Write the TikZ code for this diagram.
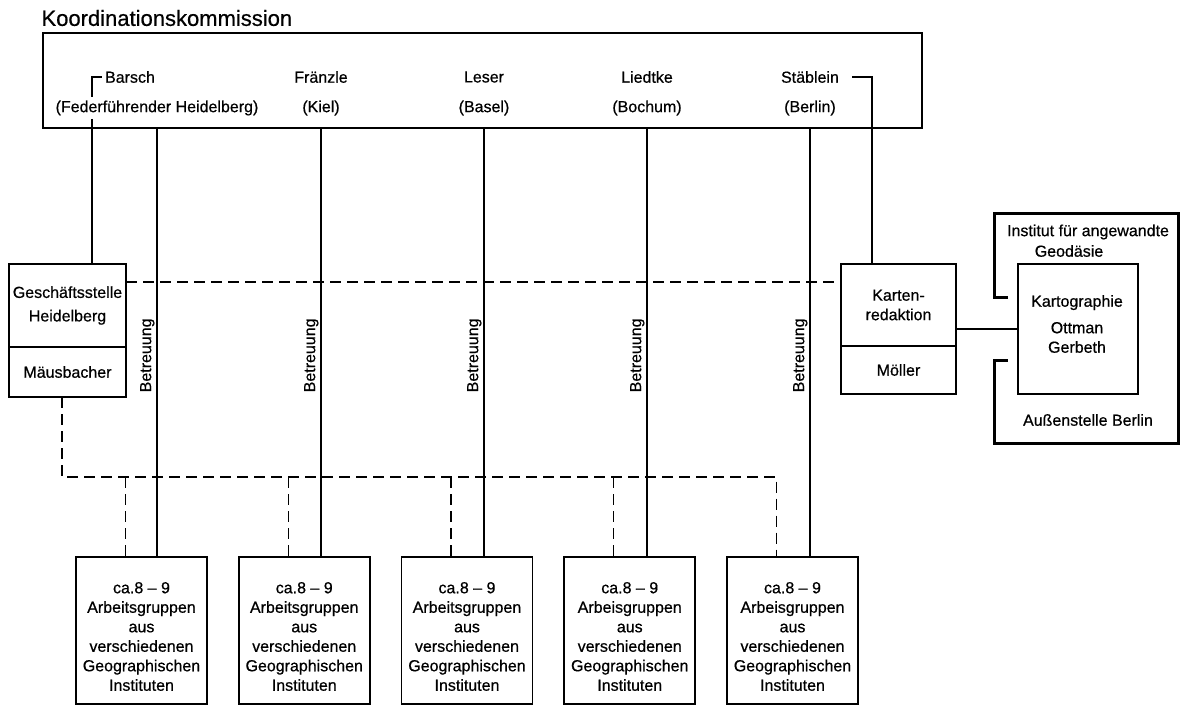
\documentclass[tikz,border=0pt]{standalone}
\usepackage{fontspec}
\setmainfont{Liberation Sans}[FakeBold=0.6]
\usetikzlibrary{positioning,calc}

\tikzset{
  kasten/.style={draw, line width=1.8pt, outer sep=0pt, inner sep=2pt, align=center},
  verbindung/.style={line width=1.1pt},
  betreut/.style={line width=1.1pt, dash pattern=on 11pt off 6pt},
}

\begin{document}
\begin{tikzpicture}[x=1pt, y=-1pt, font=\fontsize{16}{19.5}\selectfont]
    \useasboundingbox (0,0) rectangle (1183,706);

    % Kommission
    \node[anchor=west, font=\fontsize{22}{26}\selectfont] (titel) at (38,18) {Koordinationskommission};
    \node[draw, line width=2.6pt, outer sep=0pt, minimum width=879pt, minimum height=95pt, anchor=north west] (komm) at (43,33) {};
    \node (n1) at (130,77) {Barsch};
    \node (o1) at (157,108) {(Federführender Heidelberg)};
    \foreach \x/\name/\ort [count=\i from 2] in {321/Fränzle/Kiel, 484/Leser/Basel, 647/Liedtke/Bochum, 810/Stäblein/Berlin}{
      \node (n\i) at (\x,77) {\name};
      \node (o\i) at (\x,108) {(\ort)};
    }

    % Geschaeftsstelle, Kartenredaktion, Kartographie
    \node[kasten, minimum width=117pt, minimum height=83pt, anchor=north west] (gs) at (9,264) {Geschäftsstelle\\[4pt]Heidelberg};
    \node[kasten, minimum width=117pt, minimum height=50pt, anchor=north] (maeus) at (gs.south) {Mäusbacher};
    \node[kasten, minimum width=115pt, minimum height=82pt, anchor=north west] (kr) at (841,264) {Karten-\\redaktion};
    \node[kasten, minimum width=115pt, minimum height=48pt, anchor=north] (moeller) at (kr.south) {Möller};
    \node[kasten, minimum width=120pt, minimum height=130pt, anchor=north west] (karto) at (1018,264) {};
    \node[align=center] (kartotext) at (1077,324) {Kartographie\\[7pt]Ottman\\Gerbeth};

    % Institut fuer angewandte Geodaesie
    \draw[line width=3pt] (1008,297) -- (994,297) -- (994,213) -- (1178,213)
      -- (1178,443) -- (994,443) -- (994,360) -- (1008,360);
    \node (inst) at (1088,232) {Institut für angewandte};
    \node (geod) at (1069,251) {Geodäsie};
    \node (aussen) at (1088,420) {Außenstelle Berlin};

    % Arbeitsgruppen
    \foreach \x/\arb [count=\i] in {141.5/Arbeitsgruppen, 304.25/Arbeitsgruppen, 467/Arbeitsgruppen, 629.75/Arbeisgruppen, 792.5/Arbeisgruppen}{
      \node[kasten, minimum width=131pt, minimum height=147pt, anchor=north] (g\i) at (\x,557) {};
      \node[align=center] (t\i) at ([yshift=-6pt]g\i.center) {ca.8 – 9\\\arb\\aus\\verschiedenen\\Geographischen\\Instituten};
    }

    % Klammern Barsch und Staeblein
    \coordinate (bk) at (92,77);
    \draw[verbindung] (n1.west) -- (bk) -- (bk |- o1.north);
    \draw[verbindung] (bk |- o1.south) -- (bk |- gs.north);
    \coordinate (sk) at (872,77);
    \draw[verbindung] ([xshift=10pt]n5.east) -- (sk) -- (sk |- kr.north);

    % Betreuung
    \foreach \i in {1,...,5}
      \draw[verbindung] (komm.south -| o\i) -- node[pos=0.53, rotate=90, anchor=south, inner sep=2pt] (b\i) {Betreuung} (g\i.north -| o\i);

    \draw[betreut] ([yshift=-18pt]gs.north east) -- ([yshift=-18pt]kr.north west);
    \draw[verbindung] (karto.west) -- (karto.west -| kr.east);

    % Maeusbacher -- Arbeitsgruppen
    \coordinate (ms) at ([xshift=-5.5pt]maeus.south);
    \coordinate (dl) at (ms |- 0,477);
    \foreach \i in {1,...,5}
      \coordinate (d\i) at ($(g\i.north)+(-16,0)$);
    \draw[betreut] (ms) -- (dl) -- (dl -| d5) -- (d5);
    \foreach \i in {1,...,4}
      \draw[betreut] (d\i |- dl) -- (d\i);
\end{tikzpicture}
\end{document}
